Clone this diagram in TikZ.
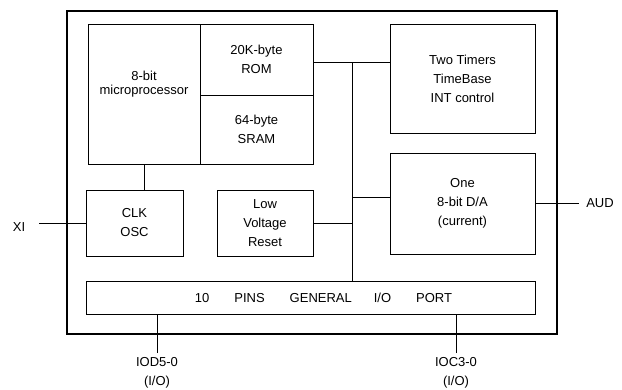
\documentclass[tikz,border=0pt]{standalone}
\usepackage{fontspec}
\setmainfont{Liberation Sans}
\usetikzlibrary{positioning}

\begin{document}
\begin{tikzpicture}[x=1pt, y=-1pt,
		blk/.style={draw, line width=0.9pt, align=center, inner sep=0pt, font=\fontsize{13}{19}\selectfont},
		wire/.style={line width=0.9pt},
		pin/.style={align=center, inner sep=0pt, font=\fontsize{13}{19}\selectfont}]
		\useasboundingbox (0,0) rectangle (622,389);
		% chip outline
		\node[draw, line width=1.6pt, minimum width=490.3pt, minimum height=323pt, inner sep=0pt] (chip) at (311.85,172.5) {};
		% blocks
		\node[blk, minimum width=112pt, minimum height=140pt,
			label={[align=center, inner sep=0pt, font=\fontsize{13}{14}\selectfont, yshift=10pt]center:8-bit\\microprocessor}] (cpu) at (144,94) {};
		\node[blk, minimum width=113pt, minimum height=71pt] (rom) at (256.5,59.5) {20K-byte\\ROM};
		\node[blk, minimum width=113pt, minimum height=69pt] (sram) at (256.5,129.5) {64-byte\\SRAM};
		\node[blk, minimum width=97pt, minimum height=66pt] (clk) at (134.5,223) {CLK\\OSC};
		\node[blk, minimum width=96pt, minimum height=66pt] (lvr) at (265,223) {Low\\Voltage\\Reset};
		\node[blk, minimum width=145pt, minimum height=109pt] (tmr) at (462.5,78.5) {Two Timers\\TimeBase\\INT control};
		\node[blk, minimum width=145pt, minimum height=101pt] (da) at (462.5,203.5) {One\\8-bit D/A\\(current)};
		\node[blk, minimum width=449pt, minimum height=33pt] (port) at (310.5,297.5)
			{\hspace*{26pt}10\hspace*{25pt}PINS\hspace*{25pt}GENERAL\hspace*{22pt}I/O\hspace*{25pt}PORT};
		% pins
		\node[pin] (xi) at (19,227) {XI};
		\node[pin] (aud) at (600,203.5) {AUD};
		\node[pin, anchor=north, inner sep=4pt] (iod) at (157,353) {IOD5-0\\(I/O)};
		\node[pin, anchor=north, inner sep=4pt] (ioc) at (456,353) {IOC3-0\\(I/O)};
		% bus
		\coordinate (bustop) at (352,62);
		\coordinate (busda) at (352,197);
		\coordinate (xiend) at (39,223);
		\draw[wire] (rom.east |- bustop) -- (tmr.west |- bustop);
		\draw[wire] (bustop) -- (bustop |- port.north);
		\draw[wire] (lvr.east) -- (lvr.east -| bustop);
		\draw[wire] (busda) -- (busda -| da.west);
		\draw[wire] (cpu.south) -- (cpu.south |- clk.north);
		\draw[wire] (clk.west) -- (clk.west -| xiend);
		\draw[wire] (da.east) -- ([xshift=-7pt]aud.west);
		\draw[wire] (iod.north) -- (iod.north |- port.south);
		\draw[wire] (ioc.north) -- (ioc.north |- port.south);
	\end{tikzpicture}
\end{document}
